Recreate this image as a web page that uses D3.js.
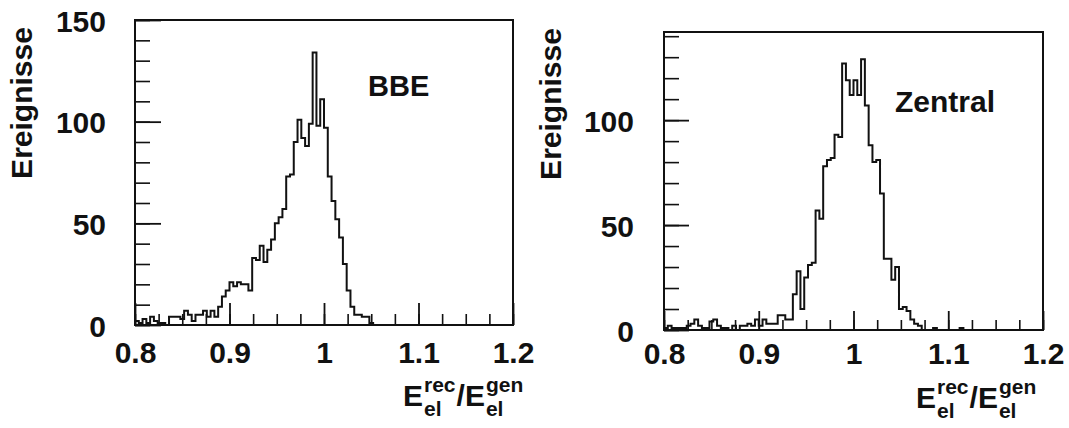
<!DOCTYPE html>
<html>
<head>
<meta charset="utf-8">
<script src="https://cdn.jsdelivr.net/npm/d3@7"></script>
<style>
  body { margin: 0; background: #fff; }
  text { font-family: "Liberation Sans", Arial, Helvetica, sans-serif; font-weight: bold; fill: #111; }
</style>
</head>
<body>
<svg id="chart" width="1069" height="428"></svg>
<script>
// Histogram bins: 100 bins of width 0.004 from 0.8 to 1.2
var binStart = 0.8;
var binWidth = 0.004;

var bbeCounts = [
  2, 1, 3, 1, 4, 2, 1, 1, 0, 4,
  4, 4, 3, 7, 5, 2, 5, 5, 7, 4,
  7, 4, 9, 14, 17, 21, 19, 21, 20, 20,
  17, 33, 32, 39, 31, 37, 42, 50, 53, 57,
  73, 74, 90, 101, 92, 88, 99, 134, 98, 111,
  97, 73, 61, 52, 43, 30, 17, 9, 5, 5,
  4, 4, 1, 0, 0, 0, 0, 0, 0, 0,
  0, 0, 0, 0, 0, 0, 0, 0, 0, 0,
  0, 0, 0, 0, 0, 0, 0, 0, 0, 0,
  0, 0, 0, 0, 0, 0, 0, 0, 0, 0
];

var zentralCounts = [
  1, 2, 1, 1, 1, 1, 2, 3, 5, 2,
  1, 1, 4, 5, 2, 1, 1, 0, 2, 0,
  2, 2, 3, 2, 5, 2, 5, 3, 3, 3,
  7, 7, 5, 5, 17, 28, 10, 25, 31, 32,
  57, 53, 78, 81, 82, 93, 92, 127, 119, 112,
  119, 112, 129, 107, 88, 80, 81, 65, 34, 34,
  24, 30, 10, 11, 9, 5, 3, 2, 0, 0,
  0, 1, 0, 0, 0, 0, 0, 0, 1, 0,
  0, 0, 0, 0, 0, 0, 0, 0, 0, 0,
  0, 0, 0, 0, 0, 0, 0, 0, 0, 0
];

var xDomain = [0.8, 1.2];
var xMajorTicks = [0.8, 0.9, 1.0, 1.1, 1.2];
var xTickLabels = ["0.8", "0.9", "1", "1.1", "1.2"];
var bbeYTicks = [0, 50, 100, 150];
var zentralYTicks = [0, 50, 100];
var yTitle = "Ereignisse";

var svg = d3.select("#chart");
var ink = "#111";

// Draws one histogram panel with its frame, ticks and labels
function drawPanel(p) {
    var g = svg.append("g");

    var x = d3.scaleLinear().domain(xDomain).range([p.left, p.right]);
    var y = d3.scaleLinear().domain([0, p.yMax]).range([p.bottom, p.top]);

    // minor ticks every 0.025 on x, every 10 on y
    var xMinor = d3.range(0, 17).map(i => 0.8 + i * 0.025);
    var yMinor = d3.range(0, p.yMax + 0.1, 10);

    g.append("g")
        .attr("transform", `translate(0, ${p.bottom})`)
        .call(d3.axisBottom(x).tickValues(xMinor).tickSize(-p.xMinorLen).tickFormat(""))
        .call(a => a.select(".domain").remove())
        .selectAll("line").attr("stroke", ink).attr("stroke-width", 1.6);

    g.append("g")
        .attr("transform", `translate(${p.left}, 0)`)
        .call(d3.axisLeft(y).tickValues(yMinor).tickSize(-p.yMinorLen).tickFormat(""))
        .call(a => a.select(".domain").remove())
        .selectAll("line").attr("stroke", ink).attr("stroke-width", 1.6);

    // major ticks with labels
    var xAxis = g.append("g")
        .attr("transform", `translate(0, ${p.bottom})`)
        .call(d3.axisBottom(x).tickValues(xMajorTicks).tickSize(-p.xMajorLen)
            .tickPadding(p.xPad).tickFormat((d, i) => xTickLabels[i]));
    xAxis.select(".domain").remove();
    xAxis.selectAll("line").attr("stroke", ink).attr("stroke-width", 1.8);
    xAxis.selectAll("text").attr("font-size", 30).attr("fill", ink);

    var yAxis = g.append("g")
        .attr("transform", `translate(${p.left}, 0)`)
        .call(d3.axisLeft(y).tickValues(p.yTicks).tickSize(-p.yMajorLen)
            .tickPadding(p.yPad).tickFormat(d3.format("d")));
    yAxis.select(".domain").remove();
    yAxis.selectAll("line").attr("stroke", ink).attr("stroke-width", 1.8);
    yAxis.selectAll("text").attr("font-size", 30).attr("dy", "0.37em").attr("fill", ink);

    // histogram outline
    var pts = [[binStart, 0]];
    p.counts.forEach((c, i) => pts.push([binStart + i * binWidth, c]));
    pts.push([binStart + p.counts.length * binWidth, p.counts[p.counts.length - 1]]);
    pts.push([binStart + p.counts.length * binWidth, 0]);

    var line = d3.line()
        .x(d => x(d[0]))
        .y(d => y(d[1]))
        .curve(d3.curveStepAfter);

    g.append("path")
        .datum(pts)
        .attr("d", line)
        .attr("fill", "none")
        .attr("stroke", ink)
        .attr("stroke-width", 2)
        .attr("stroke-linejoin", "miter");

    // frame
    g.append("rect")
        .attr("x", p.left)
        .attr("y", p.top)
        .attr("width", p.right - p.left)
        .attr("height", p.bottom - p.top)
        .attr("fill", "none")
        .attr("stroke", ink)
        .attr("stroke-width", 2);

    // panel label
    g.append("text")
        .attr("x", p.labelX)
        .attr("y", p.labelY)
        .attr("font-size", p.labelSize)
        .text(p.label);

    // y title
    g.append("text")
        .attr("transform", `translate(${p.yTitleX}, ${p.yTitleY}) rotate(-90)`)
        .attr("text-anchor", "middle")
        .attr("font-size", 30)
        .text(yTitle);

    // x title: E_el^rec / E_el^gen
    drawRatioTitle(g, p.xTitleX, p.xTitleY);
}

function drawRatioTitle(g, x0, base) {
    var big = 30, small = 21;
    var cx = x0;
    function piece(str, size, dyBase) {
        var t = g.append("text")
            .attr("x", cx)
            .attr("y", base + dyBase)
            .attr("font-size", size)
            .text(str);
        return t.node().getComputedTextLength();
    }
    var w = piece("E", big, 0);
    cx += w + 1;
    var w1 = piece("rec", small, -14);
    var w2 = piece("el", small, 10);
    cx += Math.max(w1, w2) + 1;
    w = piece("/E", big, 0);
    cx += w + 1;
    piece("gen", small, -14);
    piece("el", small, 10);
}

drawPanel({
    left: 135, right: 513, top: 20, bottom: 325, yMax: 150,
    counts: bbeCounts, yTicks: bbeYTicks,
    xMinorLen: 11, xMajorLen: 22, yMinorLen: 15, yMajorLen: 26,
    xPad: 17, yPad: 29,
    label: "BBE", labelX: 368, labelY: 96, labelSize: 29,
    yTitleX: 32, yTitleY: 103,
    xTitleX: 403, xTitleY: 406
});

drawPanel({
    left: 664, right: 1043, top: 32, bottom: 330, yMax: 142,
    counts: zentralCounts, yTicks: zentralYTicks,
    xMinorLen: 10, xMajorLen: 19, yMinorLen: 15, yMajorLen: 25,
    xPad: 13, yPad: 30,
    label: "Zentral", labelX: 895, labelY: 112, labelSize: 30,
    yTitleX: 561, yTitleY: 104,
    xTitleX: 916, xTitleY: 408
});
</script>
</body>
</html>
